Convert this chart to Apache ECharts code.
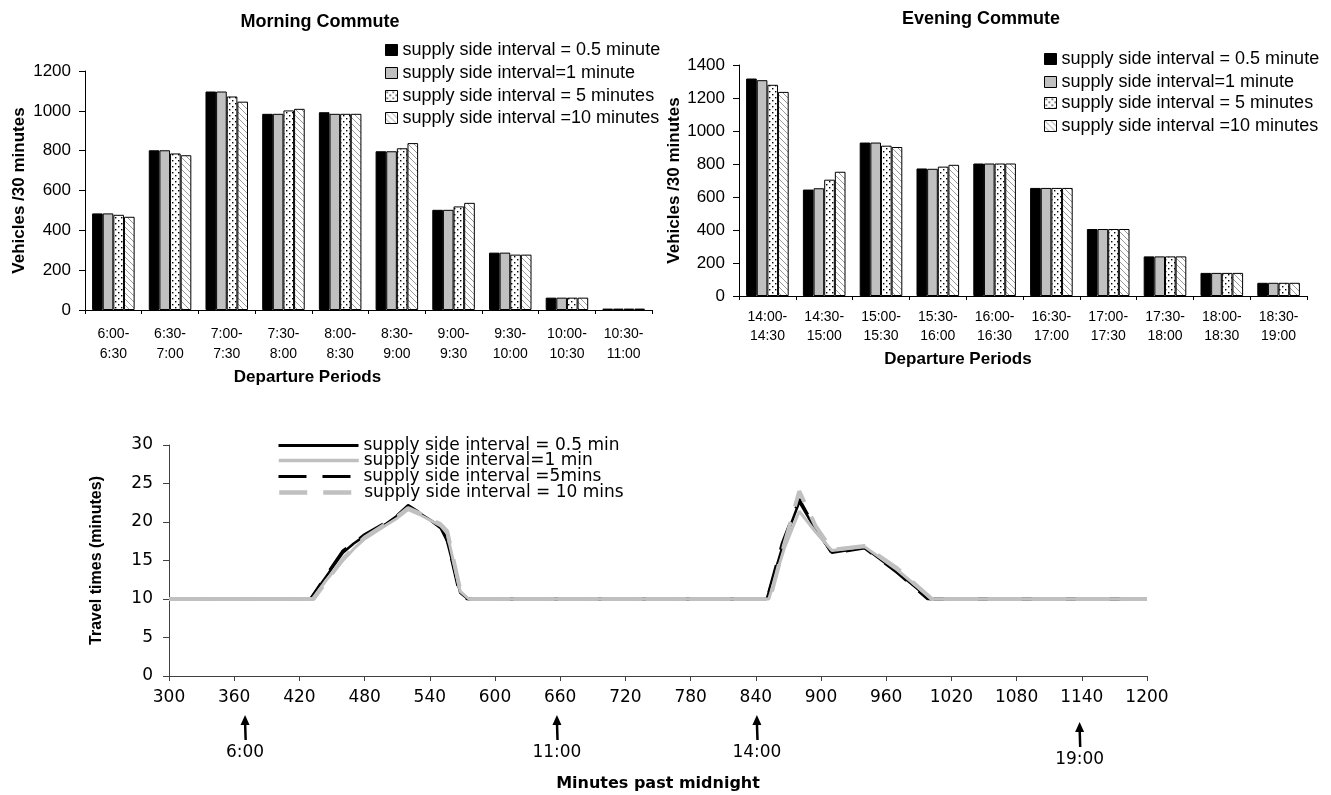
<!DOCTYPE html>
<html><head><meta charset="utf-8">
<script src="https://cdn.jsdelivr.net/npm/echarts@6/dist/echarts.min.js"></script>
<style>html,body{margin:0;padding:0;background:#fff}#c{width:1331px;height:795px}</style>
</head><body><div id="c"></div>
<script>
// ---------- DATA ----------
const barNames = ['supply side interval = 0.5 minute', 'supply side interval=1 minute', 'supply side interval = 5 minutes', 'supply side interval =10 minutes'];
const morningCats = ['6:00-\n6:30', '6:30-\n7:00', '7:00-\n7:30', '7:30-\n8:00', '8:00-\n8:30', '8:30-\n9:00', '9:00-\n9:30', '9:30-\n10:00', '10:00-\n10:30', '10:30-\n11:00'];
const morning05 = [485, 802, 1097, 985, 993, 797, 503, 288, 62, 7];
const morning1  = [485, 802, 1097, 985, 985, 797, 503, 288, 62, 7];
const morning5  = [478, 786, 1072, 1002, 985, 812, 520, 278, 62, 7];
const morning10 = [468, 777, 1046, 1010, 985, 838, 538, 278, 62, 7];
const eveningCats = ['14:00-\n14:30', '14:30-\n15:00', '15:00-\n15:30', '15:30-\n16:00', '16:00-\n16:30', '16:30-\n17:00', '17:00-\n17:30', '17:30-\n18:00', '18:00-\n18:30', '18:30-\n19:00'];
const evening05 = [1318, 645, 930, 773, 803, 655, 406, 240, 140, 80];
const evening1  = [1308, 653, 930, 771, 803, 655, 406, 240, 140, 80];
const evening5  = [1280, 705, 911, 784, 803, 655, 406, 240, 140, 80];
const evening10 = [1237, 753, 903, 795, 803, 655, 406, 240, 140, 80];

const lineNames = ['supply side interval = 0.5 min', 'supply side interval=1 min', 'supply side interval =5mins', 'supply side interval = 10 mins'];
const travel05 = [[300,10],[430,10],[445,13],[460,16],[470,17.2],[480,18.2],[500,19.8],[510,20.8],[520,22.1],[530,21.2],[550,19.4],[555,18],[568,10.8],[575,10],[850,10],[865,17],[880,22.6],[895,19],[910,16],[940,16.7],[970,13.5],[1000,10],[1200,10]];
const travel1  = [[300,10],[432,10],[445,12.5],[460,15],[470,16.5],[480,17.8],[500,19.6],[510,20.5],[520,21.6],[530,21],[550,19.5],[556,18.5],[568,11],[576,10],[852,10],[866,16.5],[880,21.4],[895,18.7],[910,16.3],[940,16.8],[970,13.8],[1002,10],[1200,10]];
const travel5  = [[300,10],[430,10],[445,13.2],[460,16.3],[470,17.3],[480,18.4],[500,20],[510,20.9],[520,22.2],[530,21.3],[550,19.2],[556,17.5],[567,10.8],[574,10],[850,10],[864,17.2],[880,23],[895,19.2],[910,15.9],[940,16.6],[970,13.4],[998,10],[1200,10]];
const travel10 = [[300,10],[433,10],[445,12.3],[460,15.2],[470,16.6],[480,18],[500,19.8],[510,20.7],[520,21.8],[530,21.2],[550,19.7],[556,18.8],[568,11.2],[578,10],[853,10],[866,17],[880,24],[895,19.5],[910,16.4],[940,16.9],[970,14],[1002,10],[1200,10]];
const arrowMinutes = [370, 657, 841, 1138];
const arrowLabels = ['6:00', '11:00', '14:00', '19:00'];

// ---------- STYLE ----------
const SANS = 'Liberation Sans';
const WIDE = 'DejaVu Sans';
function makeTile(draw) {
  const c = document.createElement('canvas'); c.width = 6; c.height = 6;
  const g = c.getContext('2d'); g.fillStyle = '#fff'; g.fillRect(0, 0, 6, 6); draw(g); return c;
}
const dotTile = makeTile(g => { g.fillStyle = '#000'; g.fillRect(1, 1, 1.4, 1.4); g.fillRect(4, 4, 1.4, 1.4); });
const hatchTile = makeTile(g => {
  g.strokeStyle = '#9a9a9a'; g.lineWidth = 1;
  g.beginPath(); g.moveTo(-1, -1); g.lineTo(7, 7); g.moveTo(5, -1); g.lineTo(7, 1); g.moveTo(-1, 5); g.lineTo(1, 7); g.stroke();
});
const barFills = ['#000000', '#c0c0c0', { image: dotTile, repeat: 'repeat' }, { image: hatchTile, repeat: 'repeat' }];
const lineStyles = [
  { color: '#000000', width: 2.5, type: 'solid' },
  { color: '#c0c0c0', width: 3, type: 'solid' },
  { color: '#000000', width: 2.5, type: [28, 16] },
  { color: '#c0c0c0', width: 4, type: [28, 16] }
];
const lineZ = [2, 5, 3, 4];

const chart = echarts.init(document.getElementById('c'), null, { renderer: 'canvas' });
const plain = v => String(v);

function barSeries(names, datas, gi) {
  return datas.map((d, i) => ({
    name: names[i], type: 'bar', xAxisIndex: gi, yAxisIndex: gi, data: d,
    barGap: '0%', barCategoryGap: '25%',
    itemStyle: { color: barFills[i], borderColor: '#000', borderWidth: 1 },
    emphasis: { disabled: true }
  }));
}
function lineSeries() {
  return [travel05, travel1, travel5, travel10].map((d, i) => ({
    name: lineNames[i], type: 'line', xAxisIndex: 2, yAxisIndex: 2, data: d,
    symbol: 'none', showSymbol: false, z: lineZ[i],
    lineStyle: lineStyles[i], itemStyle: { color: lineStyles[i].color },
    emphasis: { disabled: true }
  }));
}

const catAxis = (gi, cats, margin, lh, nameGap, namePadR) => ({
  type: 'category', gridIndex: gi, data: cats,
  axisLine: { show: true, lineStyle: { color: '#000', width: 1 } },
  axisTick: { show: true, length: 4, lineStyle: { color: '#000' } },
  axisLabel: { interval: 0, color: '#000', fontFamily: SANS, fontSize: 14, lineHeight: lh, margin: margin, hideOverlap: false },
  splitLine: { show: false },
  name: 'Departure Periods', nameLocation: 'middle', nameGap: nameGap,
  nameTextStyle: { color: '#000', fontFamily: SANS, fontWeight: 'bold', fontSize: 17, padding: [0, namePadR, 0, 0] }
});
const valAxis = (gi, max, nameGap) => ({
  type: 'value', gridIndex: gi, min: 0, max: max, interval: 200,
  axisLine: { show: true, lineStyle: { color: '#000', width: 1 } },
  axisTick: { show: true, length: 6, lineStyle: { color: '#000' } },
  axisLabel: { color: '#000', fontFamily: SANS, fontSize: 17, margin: 14, formatter: plain },
  splitLine: { show: false },
  name: 'Vehicles /30 minutes', nameLocation: 'middle', nameGap: nameGap,
  nameTextStyle: { color: '#000', fontFamily: SANS, fontWeight: 'bold', fontSize: 17 }
});

function barLegends(left, tops) {
  return barNames.map((n, i) => ({
    data: [n], left: left, top: tops[i], padding: 0, orient: 'vertical',
    itemWidth: 12, itemHeight: 11, icon: 'rect', selectedMode: false,
    itemStyle: { color: barFills[i], borderColor: '#000', borderWidth: 1 },
    textStyle: { color: '#000', fontFamily: SANS, fontSize: 18, lineHeight: 18 }
  }));
}
function lineLegends(left, tops) {
  return lineNames.map((n, i) => ({
    data: [n], left: left, top: tops[i], padding: 0, orient: 'vertical',
    itemWidth: 80, itemHeight: 12, selectedMode: false,
    itemStyle: { opacity: 0 },
    lineStyle: { color: lineStyles[i].color, width: lineStyles[i].width + 0.5, type: lineStyles[i].type },
    textStyle: { color: '#000', fontFamily: WIDE, fontSize: 17, lineHeight: 16 }
  }));
}

const option = {
  animation: false,
  backgroundColor: '#fff',
  grid: [
    { left: 85, top: 71, width: 567, height: 239 },
    { left: 739, top: 65, width: 568, height: 231 },
    { left: 169, top: 445, width: 978, height: 231 }
  ],
  xAxis: [
    catAxis(0, morningCats, 14, 20, 59, 122),
    catAxis(1, eveningCats, 12, 19, 55, 130),
    {
      type: 'value', gridIndex: 2, min: 300, max: 1200, interval: 60,
      axisLine: { show: true, lineStyle: { color: '#404040', width: 1 } },
      axisTick: { show: true, length: 5, lineStyle: { color: '#404040' } },
      axisLabel: { color: '#000', fontFamily: WIDE, fontSize: 17, margin: 13, formatter: plain },
      splitLine: { show: false },
      name: 'Minutes past midnight', nameLocation: 'middle', nameGap: 100,
      nameTextStyle: { color: '#000', fontFamily: WIDE, fontWeight: 'bold', fontSize: 16 }
    }
  ],
  yAxis: [
    valAxis(0, 1200, 57),
    valAxis(1, 1400, 53),
    {
      type: 'value', gridIndex: 2, min: 0, max: 30, interval: 5,
      axisLine: { show: true, lineStyle: { color: '#404040', width: 1 } },
      axisTick: { show: true, length: 6, lineStyle: { color: '#404040' } },
      axisLabel: { color: '#000', fontFamily: WIDE, fontSize: 17, margin: 16, formatter: plain },
      splitLine: { show: false },
      name: 'Travel times (minutes)', nameLocation: 'middle', nameGap: 64,
      nameTextStyle: { color: '#000', fontFamily: SANS, fontWeight: 'bold', fontSize: 16 }
    }
  ],
  legend: [].concat(
    barLegends(385, [41, 64, 87, 109]),
    barLegends(1044, [50, 73, 94, 117]),
    lineLegends(277, [437, 452, 468, 484])
  ),
  series: [].concat(
    barSeries(barNames, [morning05, morning1, morning5, morning10], 0),
    barSeries(barNames, [evening05, evening1, evening5, evening10], 1),
    lineSeries()
  ),
  graphic: [
    { type: 'text', x: 320, y: 22, style: { text: 'Morning Commute', font: 'bold 18px "Liberation Sans"', fill: '#000', align: 'center', verticalAlign: 'middle', textAlign: 'center', textVerticalAlign: 'middle' } },
    { type: 'text', x: 981, y: 19, style: { text: 'Evening Commute', font: 'bold 18px "Liberation Sans"', fill: '#000', align: 'center', verticalAlign: 'middle', textAlign: 'center', textVerticalAlign: 'middle' } }
  ]
};
chart.setOption(option);

// arrows marking clock times under the bottom axis
const arrowDrop = [0, 0, 0, 7];
const extra = [];
arrowMinutes.forEach((m, i) => {
  const p = chart.convertToPixel({ gridIndex: 2 }, [m, 0]);
  const x = p[0], dy = arrowDrop[i];
  extra.push({ type: 'line', shape: { x1: x, y1: 722 + dy, x2: x + 0.6, y2: 740 + dy }, style: { stroke: '#000', lineWidth: 2.5 } });
  extra.push({ type: 'polygon', shape: { points: [[x, 715 + dy], [x - 4.5, 725 + dy], [x + 4.5, 725 + dy]] }, style: { fill: '#000' } });
  extra.push({ type: 'text', x: x, y: 753 + dy, style: { text: arrowLabels[i], font: '17px "DejaVu Sans"', fill: '#000', align: 'center', verticalAlign: 'middle', textAlign: 'center', textVerticalAlign: 'middle' } });
});
chart.setOption({ graphic: option.graphic.concat(extra) });
</script>
</body></html>
